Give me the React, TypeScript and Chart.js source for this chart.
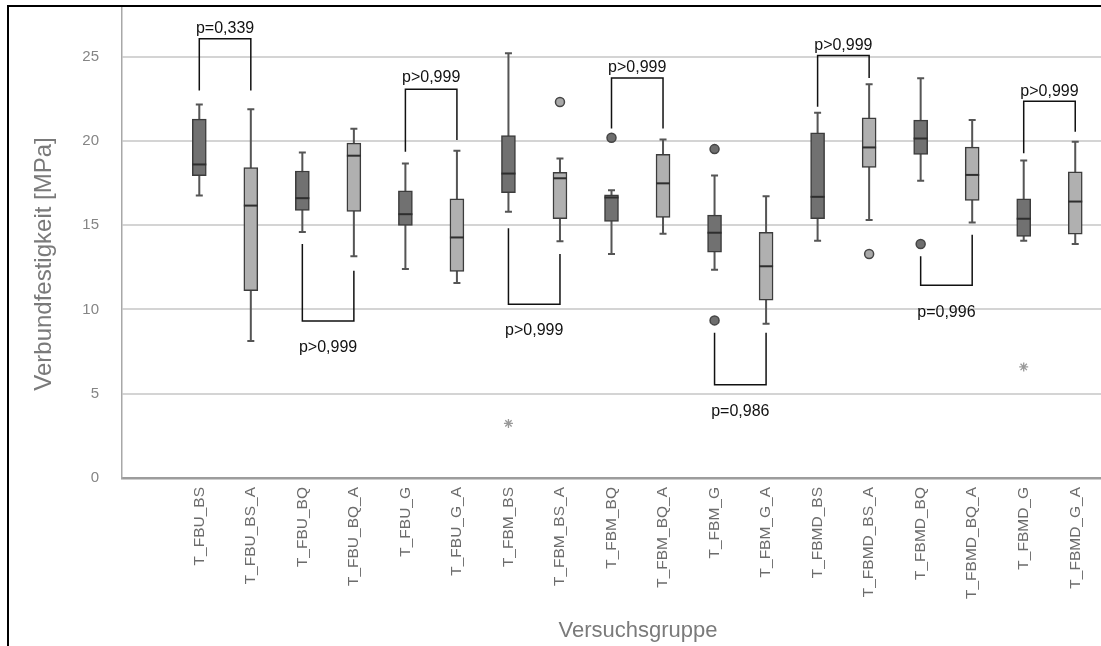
import React, { useEffect, useRef } from 'react';
import { Chart, registerables } from 'chart.js';

Chart.register(...registerables);

// ---------- data ----------
const categories = [
  'T_FBU_BS', 'T_FBU_BS_A', 'T_FBU_BQ', 'T_FBU_BQ_A', 'T_FBU_G', 'T_FBU_G_A',
  'T_FBM_BS', 'T_FBM_BS_A', 'T_FBM_BQ', 'T_FBM_BQ_A', 'T_FBM_G', 'T_FBM_G_A',
  'T_FBMD_BS', 'T_FBMD_BS_A', 'T_FBMD_BQ', 'T_FBMD_BQ_A', 'T_FBMD_G', 'T_FBMD_G_A',
];
const whiskerHigh = [22.15, 21.88, 19.31, 20.72, 18.66, 19.41, 25.2, 18.96, 17.07, 20.08, 17.94, 16.71, 21.66, 23.36, 23.71, 21.23, 18.84, 19.95];
const q3 = [21.29, 18.41, 18.21, 19.87, 17.03, 16.56, 20.32, 18.13, 16.8, 19.2, 15.59, 14.57, 20.48, 21.37, 21.23, 19.63, 16.56, 18.17];
const median = [18.6, 16.16, 16.6, 19.12, 15.65, 14.27, 18.06, 17.78, 16.64, 17.48, 14.55, 12.56, 16.68, 19.61, 20.14, 17.98, 15.38, 16.4];
const q1 = [17.94, 11.12, 15.87, 15.81, 14.98, 12.26, 16.93, 15.38, 15.22, 15.46, 13.4, 10.55, 15.38, 18.43, 19.2, 16.46, 14.33, 14.47];
const whiskerLow = [16.76, 8.13, 14.59, 13.15, 12.4, 11.57, 15.79, 14.04, 13.29, 14.49, 12.36, 9.15, 14.08, 15.3, 17.64, 15.16, 14.08, 13.88];

const outlierGroup = ['T_FBM_BS_A', 'T_FBM_BQ', 'T_FBM_G', 'T_FBM_G', 'T_FBMD_BS_A', 'T_FBMD_BQ'];
const outlierValue = [22.31, 20.18, 19.51, 9.35, 13.29, 13.88];

const extremeGroup = ['T_FBM_BS', 'T_FBMD_G'];
const extremeValue = [3.24, 6.59];

const bracketFrom = ['T_FBU_BS', 'T_FBU_BQ', 'T_FBU_G', 'T_FBM_BS', 'T_FBM_BQ', 'T_FBM_G', 'T_FBMD_BS', 'T_FBMD_BQ', 'T_FBMD_G'];
const bracketTo = ['T_FBU_BS_A', 'T_FBU_BQ_A', 'T_FBU_G_A', 'T_FBM_BS_A', 'T_FBM_BQ_A', 'T_FBM_G_A', 'T_FBMD_BS_A', 'T_FBMD_BQ_A', 'T_FBMD_G_A'];
const bracketFromStart = [22.98, 13.88, 19.36, 14.82, 20.73, 8.62, 22.02, 13.15, 19.26];
const bracketToStart = [22.98, 12.3, 20.05, 13.29, 20.73, 8.62, 23.73, 14.43, 20.54];
const bracketLevel = [26.05, 9.31, 23.06, 10.3, 23.73, 5.53, 25.07, 11.44, 22.35];
const bracketText = ['p=0,339', 'p>0,999', 'p>0,999', 'p>0,999', 'p>0,999', 'p=0,986', 'p>0,999', 'p=0,996', 'p>0,999'];
const bracketTextY = [26.64, 7.73, 23.73, 8.76, 24.36, 3.95, 25.66, 9.8, 22.9];

const yTicks = [0, 5, 10, 15, 20, 25];
const yMax = 28;
const xTitle = 'Versuchsgruppe';
const yTitle = 'Verbundfestigkeit [MPa]';

// ---------- styles ----------
const FONT = "'Liberation Sans', Arial, sans-serif";
const DARK_FILL = '#717171';
const LIGHT_FILL = '#b0b0b0';
const isLight = (name: string) => name.endsWith('_A');
const fillFor = (name: string) => (isLight(name) ? LIGHT_FILL : DARK_FILL);
const BOX_W = 14;
const CAP_W = 7;
const CANVAS_W = 1107;
const CANVAS_H = 646;

const labels = ['', ...categories];
const idx = (name: string) => labels.indexOf(name);

const boxPlugin = {
  id: 'boxParts',
  beforeDatasetsDraw(chart: any) {
    const { ctx, scales } = chart;
    const x = scales.x;
    const y = scales.y;
    ctx.save();
    ctx.strokeStyle = '#555555';
    ctx.lineWidth = 2;
    categories.forEach((name, i) => {
      const px = x.getPixelForValue(idx(name));
      const yl = y.getPixelForValue(whiskerLow[i]);
      const yh = y.getPixelForValue(whiskerHigh[i]);
      ctx.beginPath();
      ctx.moveTo(px, yl);
      ctx.lineTo(px, yh);
      ctx.moveTo(px - CAP_W / 2, yl);
      ctx.lineTo(px + CAP_W / 2, yl);
      ctx.moveTo(px - CAP_W / 2, yh);
      ctx.lineTo(px + CAP_W / 2, yh);
      ctx.stroke();
    });
    ctx.restore();
  },
  afterDatasetsDraw(chart: any) {
    const { ctx, scales } = chart;
    const x = scales.x;
    const y = scales.y;
    ctx.save();
    ctx.strokeStyle = '#2e2e2e';
    ctx.lineWidth = 2;
    categories.forEach((name, i) => {
      const px = x.getPixelForValue(idx(name));
      const pm = y.getPixelForValue(median[i]);
      ctx.beginPath();
      ctx.moveTo(px - BOX_W / 2, pm);
      ctx.lineTo(px + BOX_W / 2, pm);
      ctx.stroke();
    });
    // brackets
    ctx.strokeStyle = '#111111';
    ctx.lineWidth = 1.5;
    ctx.fillStyle = '#111111';
    ctx.font = `16px ${FONT}`;
    ctx.textAlign = 'center';
    ctx.textBaseline = 'middle';
    bracketFrom.forEach((from, k) => {
      const xa = x.getPixelForValue(idx(from));
      const xb = x.getPixelForValue(idx(bracketTo[k]));
      const ya = y.getPixelForValue(bracketFromStart[k]);
      const yb = y.getPixelForValue(bracketToStart[k]);
      const yl = y.getPixelForValue(bracketLevel[k]);
      ctx.beginPath();
      ctx.moveTo(xa, ya);
      ctx.lineTo(xa, yl);
      ctx.lineTo(xb, yl);
      ctx.lineTo(xb, yb);
      ctx.stroke();
      ctx.fillText(bracketText[k], (xa + xb) / 2, y.getPixelForValue(bracketTextY[k]));
    });
    ctx.restore();
  },
  afterDraw(chart: any) {
    const { ctx, chartArea } = chart;
    ctx.save();
    ctx.fillStyle = '#7a7a7a';
    ctx.font = `24px ${FONT}`;
    ctx.textAlign = 'center';
    ctx.textBaseline = 'middle';
    ctx.translate(chartArea.left - 78, (chartArea.top + chartArea.bottom) / 2 + 22);
    ctx.rotate(-Math.PI / 2);
    ctx.fillText(yTitle, 0, 0);
    ctx.restore();

    ctx.save();
    ctx.fillStyle = '#7a7a7a';
    ctx.font = `22px ${FONT}`;
    ctx.textAlign = 'center';
    ctx.textBaseline = 'alphabetic';
    ctx.fillText(xTitle, chartArea.left + 516, chart.height - 9);
    ctx.restore();
  },
};

export default function App() {
  const ref = useRef<HTMLCanvasElement | null>(null);

  useEffect(() => {
    const canvas = ref.current;
    if (!canvas) return;
    const chart = new Chart(canvas, {
      type: 'bar',
      data: {
        labels,
        datasets: [
          {
            type: 'bar',
            label: 'Box',
            data: [null, ...categories.map((_, i) => [q1[i], q3[i]])] as any,
            backgroundColor: ['rgba(0,0,0,0)', ...categories.map(fillFor)],
            borderColor: '#3c3c3c',
            borderWidth: 1.5,
            borderSkipped: false,
            barThickness: BOX_W,
          } as any,
          {
            type: 'line',
            label: 'Ausreißer',
            data: outlierGroup.map((g, j) => ({ x: g, y: outlierValue[j] })) as any,
            showLine: false,
            pointRadius: 4.5,
            pointBackgroundColor: outlierGroup.map((g) => (isLight(g) ? '#a8a8a8' : '#6e6e6e')),
            pointBorderColor: '#454545',
            pointBorderWidth: 1.5,
          } as any,
          {
            type: 'line',
            label: 'Extremwerte',
            data: extremeGroup.map((g, j) => ({ x: g, y: extremeValue[j] })) as any,
            showLine: false,
            pointStyle: 'star',
            pointRadius: 4.5,
            pointBorderColor: '#9a9a9a',
            pointBackgroundColor: '#9a9a9a',
            pointBorderWidth: 1.3,
          } as any,
        ],
      },
      options: {
        responsive: false,
        animation: false,
        devicePixelRatio: 1,
        layout: { padding: { top: 4, right: 0, left: 0, bottom: 0 } },
        plugins: {
          legend: { display: false },
          tooltip: { enabled: false },
        },
        scales: {
          x: {
            type: 'category',
            offset: true,
            grid: { display: false, drawTicks: false },
            border: { display: true, color: '#9c9c9c', width: 2.5 },
            ticks: {
              autoSkip: false,
              minRotation: 90,
              maxRotation: 90,
              padding: 9,
              color: '#6c6c6c',
              font: { family: FONT, size: 15.5 },
            },
            afterFit: (scale: any) => {
              scale.height = 168;
              scale.paddingLeft = 0;
              scale.paddingRight = 0;
            },
          },
          y: {
            type: 'linear',
            min: 0,
            max: yMax,
            grid: { color: '#d4d4d4', lineWidth: 2, drawTicks: false },
            border: { display: true, color: '#a8a8a8', width: 1.5 },
            ticks: {
              padding: 23,
              color: '#858585',
              font: { family: FONT, size: 15 },
            },
            afterBuildTicks: (scale: any) => {
              scale.ticks = yTicks.map((v) => ({ value: v }));
            },
            afterFit: (scale: any) => {
              scale.width = 122;
              scale.paddingTop = 0;
              scale.paddingBottom = 0;
            },
          },
        },
      } as any,
      plugins: [boxPlugin],
    });
    return () => chart.destroy();
  }, []);

  return (
    <div style={{ position: 'fixed', left: 0, top: 0, width: 1101, height: 646, overflow: 'hidden', background: '#fff' }}>
      <canvas
        ref={ref}
        width={CANVAS_W}
        height={CANVAS_H}
        style={{ position: 'absolute', left: 0, top: 0, width: CANVAS_W, height: CANVAS_H }}
      />
      <div
        style={{
          position: 'absolute',
          left: 7,
          top: 5,
          width: 1200,
          height: 800,
          borderTop: '2px solid #000',
          borderLeft: '2px solid #000',
          pointerEvents: 'none',
        }}
      />
    </div>
  );
}
